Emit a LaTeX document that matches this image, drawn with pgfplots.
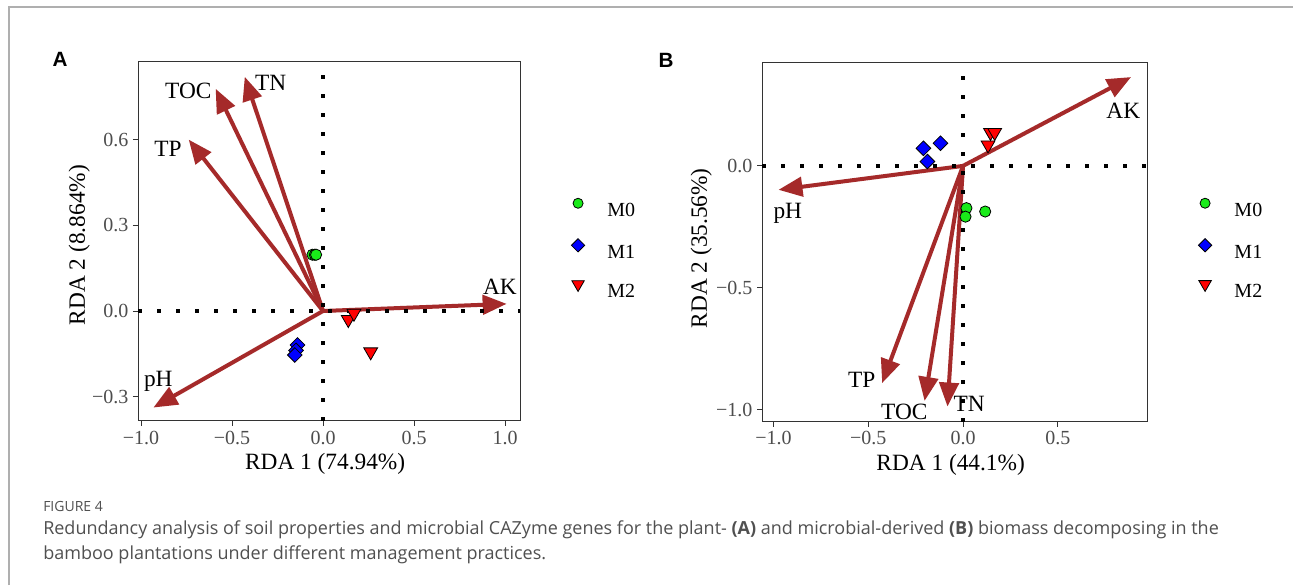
\documentclass[border=0pt]{standalone}
\usepackage{fontspec}
\setmainfont{Liberation Serif}
\newfontfamily\capfont{Open Sans}
\newfontfamily\panelfont{Liberation Sans}
\usepackage{pgfplots}
\pgfplotsset{compat=1.18}
\usetikzlibrary{arrows.meta}
\definecolor{arrowbrown}{RGB}{165,42,42}
\definecolor{mgreen}{RGB}{25,235,25}
\definecolor{mblue}{RGB}{0,0,255}
\definecolor{mred}{RGB}{255,0,0}
\definecolor{framecol}{RGB}{51,51,51}
\definecolor{ticktext}{RGB}{77,77,77}
\definecolor{capgray}{RGB}{80,80,80}
\definecolor{bordergray}{RGB}{175,175,175}
\pgfplotsset{rdastyle/.style={
  scale only axis,
  axis line style={color=framecol, line width=0.75pt},
  tick style={color=framecol, line width=0.75pt},
  tick align=outside,
  major tick length=3.75pt,
  xtick pos=bottom, ytick pos=left,
  ticklabel style={font=\fontsize{15}{17}\selectfont, text=ticktext},
  label style={font=\fontsize{17.5}{20}\selectfont},
  clip=false,
  legend style={draw=none, fill=none, inner sep=0pt, outer sep=0pt, row sep=16.5pt,
    font=\fontsize{15}{17}\selectfont, nodes={inner sep=0pt, text height=10.5pt, text depth=0pt}},
  legend cell align=left,
  legend image code/.code={\draw[##1, every mark/.append style={scale=0.9}] plot coordinates {(0pt,4.8pt)}; \path (-5pt,0pt) (21.75pt,0pt);},
}}
\tikzset{
  arrowline/.style={color=arrowbrown, line width=3pt, -{Triangle[length=18pt,width=14.5pt]}},
  dotline/.style={black, line width=3pt, dash pattern=on 3pt off 11.25pt},
  lbl/.style={font=\fontsize{17.5}{20}\selectfont},
}
\begin{document}
\begin{tikzpicture}
\useasboundingbox (0,0) rectangle (969.75pt,-441pt);
\fill[white] (0,0) rectangle (969.75pt,-441pt);
\draw[bordergray, line width=1.5pt] (6.75pt,-438.75pt) -- (6.75pt,-5.25pt) -- (969.75pt,-5.25pt);
\node[font=\panelfont\bfseries\fontsize{15.5}{18}\selectfont] at (45pt,-44.25pt) {A};
\node[font=\panelfont\bfseries\fontsize{15.5}{18}\selectfont] at (499.5pt,-45pt) {B};

% Panel A
\begin{axis}[rdastyle,
  at={(103.5pt,-46.5pt)}, anchor=north west,
  width=286.5pt, height=269.25pt,
  xmin=-1.0165, xmax=1.0824, ymin=-0.385, ymax=0.8716,
  xtick={-1,-0.5,0,0.5,1}, xticklabels={−1.0,−0.5,0.0,0.5,1.0},
  ytick={-0.3,0,0.3,0.6}, yticklabels={−0.3,0.0,0.3,0.6},
  xlabel={RDA 1 (74.94\%)}, ylabel={RDA 2 (8.864\%)},
  xlabel style={at={(axis description cs:0.49,-0.1365)}, anchor=base},
  ylabel style={at={(axis description cs:-0.139,0.49)}, anchor=base},
  legend style={at={(axis description cs:1.1335,0.482)}, anchor=west},
]
\addplot[arrowline, forget plot] coordinates {(0,0) (-0.43,0.82)};
\addplot[arrowline, forget plot] coordinates {(0,0) (-0.59,0.778)};
\addplot[arrowline, forget plot] coordinates {(0,0) (-0.738,0.60)};
\addplot[arrowline, forget plot] coordinates {(0,0) (1.009,0.025)};
\addplot[arrowline, forget plot] coordinates {(0,0) (-0.932,-0.338)};
\addplot[dotline, forget plot] coordinates {(-1.0165,0) (1.0824,0)};
\addplot[dotline, forget plot] coordinates {(0,-0.385) (0,0.8716)};
\addplot[only marks, mark=*, mark size=4.2pt, draw=black, fill=mgreen, line width=0.6pt]
  coordinates {(-0.058,0.197) (-0.045,0.197) (-0.038,0.197)};
\addlegendentry{M0}
\addplot[only marks, mark=square*, mark size=3.9pt, mark options={rotate=45}, draw=black, fill=mblue, line width=0.6pt]
  coordinates {(-0.14,-0.119) (-0.148,-0.138) (-0.155,-0.154)};
\addlegendentry{M1}
\addplot[only marks, mark=triangle*, mark size=6pt, mark options={rotate=180}, draw=black, fill=mred, line width=0.6pt]
  coordinates {(0.139,-0.03) (0.17,-0.008) (0.262,-0.143)};
\addlegendentry{M2}
\node[lbl] at (axis cs:-0.288,0.80) {TN};
\node[lbl] at (axis cs:-0.74,0.772) {TOC};
\node[lbl] at (axis cs:-0.852,0.569) {TP};
\node[lbl] at (axis cs:0.972,0.085) {AK};
\node[lbl] at (axis cs:-0.905,-0.247) {pH};
\end{axis}

% Panel B
\begin{axis}[rdastyle,
  at={(571.5pt,-47pt)}, anchor=north west,
  width=288.75pt, height=269.25pt,
  xmin=-1.061, xmax=0.971, ymin=-1.048, ymax=0.423,
  xtick={-1,-0.5,0,0.5}, xticklabels={−1.0,−0.5,0.0,0.5},
  ytick={-1,-0.5,0}, yticklabels={−1.0,−0.5,0.0},
  xlabel={RDA 1 (44.1\%)}, ylabel={RDA 2 (35.56\%)},
  xlabel style={at={(axis description cs:0.49,-0.1365)}, anchor=base},
  ylabel style={at={(axis description cs:-0.143,0.483)}, anchor=base},
  legend style={at={(axis description cs:1.1325,0.484)}, anchor=west},
]
\addplot[arrowline, forget plot] coordinates {(0,0) (0.887,0.364)};
\addplot[arrowline, forget plot] coordinates {(0,0) (-0.974,-0.098)};
\addplot[arrowline, forget plot] coordinates {(0,0) (-0.427,-0.89)};
\addplot[arrowline, forget plot] coordinates {(0,0) (-0.203,-0.963)};
\addplot[arrowline, forget plot] coordinates {(0,0) (-0.082,-0.986)};
\addplot[dotline, forget plot] coordinates {(-1.061,0) (0.971,0)};
\addplot[dotline, forget plot] coordinates {(0,-1.048) (0,0.423)};
\addplot[only marks, mark=*, mark size=4.2pt, draw=black, fill=mgreen, line width=0.6pt]
  coordinates {(0.018,-0.173) (0.013,-0.208) (0.117,-0.187)};
\addlegendentry{M0}
\addplot[only marks, mark=square*, mark size=3.9pt, mark options={rotate=45}, draw=black, fill=mblue, line width=0.6pt]
  coordinates {(-0.209,0.072) (-0.119,0.093) (-0.188,0.018)};
\addlegendentry{M1}
\addplot[only marks, mark=triangle*, mark size=6pt, mark options={rotate=180}, draw=black, fill=mred, line width=0.6pt]
  coordinates {(0.132,0.086) (0.145,0.137) (0.167,0.137)};
\addlegendentry{M2}
\node[lbl] at (axis cs:0.846,0.226) {AK};
\node[lbl] at (axis cs:-0.925,-0.194) {pH};
\node[lbl] at (axis cs:-0.535,-0.877) {TP};
\node[lbl] at (axis cs:-0.31,-1.007) {TOC};
\node[lbl] at (axis cs:0.032,-0.977) {TN};
\end{axis}

% Caption
\node[anchor=base west, font=\capfont\fontsize{10.5}{12}\selectfont, text=capgray, inner sep=0pt] at (32.25pt,-383.25pt) {FIGURE 4};
\node[anchor=base west, font=\capfont\fontsize{13.5}{16}\selectfont, text=capgray, inner sep=0pt] at (32.25pt,-400.5pt) {Redundancy analysis of soil properties and microbial CAZyme genes for the plant- \textbf{(A)} and microbial-derived \textbf{(B)} biomass decomposing in the};
\node[anchor=base west, font=\capfont\fontsize{13.5}{16}\selectfont, text=capgray, inner sep=0pt] at (32.25pt,-419.25pt) {bamboo plantations under different management practices.};
\end{tikzpicture}
\end{document}
